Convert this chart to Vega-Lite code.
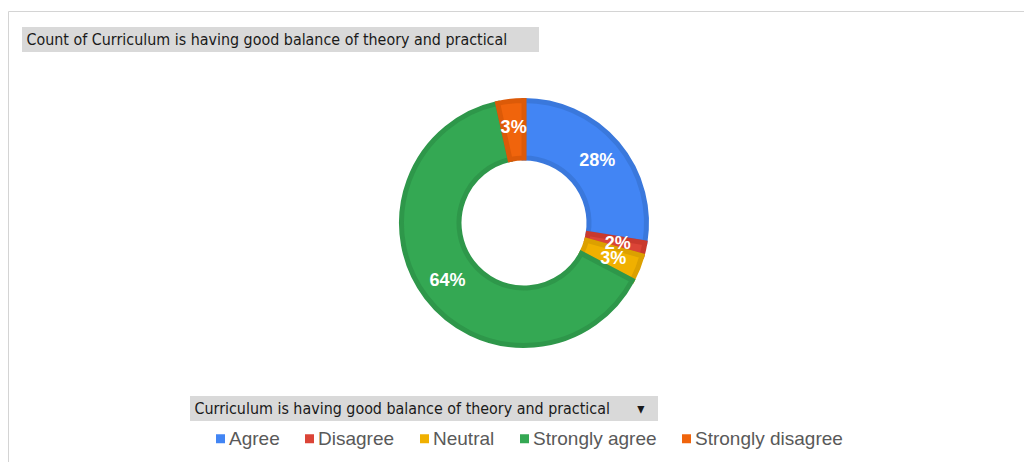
{
  "$schema": "https://vega.github.io/schema/vega-lite/v6.json",
  "width": 1000,
  "height": 446,
  "autosize": {"type": "none"},
  "padding": {"left": 24, "top": 0, "right": 0, "bottom": 16},
  "background": "white",
  "config": {"view": {"stroke": null}},
  "layer": [
    {
      "data": {"values": [{"f": "frame"}]},
      "mark": {"type": "point", "opacity": 0},
      "encoding": {
        "shape": {
          "field": "f",
          "type": "nominal",
          "legend": {
            "orient": "none",
            "legendX": -16,
            "legendY": 11,
            "values": [],
            "title": "\u200b",
            "titleFontSize": 10,
            "strokeColor": "#d4d4d4",
            "padding": 600,
            "titlePadding": 0
          }
        }
      }
    },
    {
      "data": {
        "values": [
          {"response": "Agree", "count": 16, "label": "28%"},
          {"response": "Disagree", "count": 1, "label": "2%"},
          {"response": "Neutral", "count": 2, "label": "3%"},
          {"response": "Strongly agree", "count": 37, "label": "64%"},
          {"response": "Strongly disagree", "count": 2, "label": "3%"}
        ]
      },
      "layer": [
        {
          "mark": {"type": "arc", "outerRadius": 122.5, "innerRadius": 65, "strokeWidth": 5},
          "encoding": {
            "theta": {"field": "count", "type": "quantitative", "stack": true},
            "order": {"field": "response", "type": "nominal", "sort": "ascending"},
            "color": {
              "field": "response",
              "type": "nominal",
              "scale": {
                "domain": ["Agree", "Disagree", "Neutral", "Strongly agree", "Strongly disagree"],
                "range": ["#4285f4", "#db4437", "#f0b000", "#34a853", "#f0640c"]
              },
              "legend": {
                "orient": "none",
                "legendX": 187,
                "legendY": 429,
                "direction": "horizontal",
                "columns": 5,
                "title": null,
                "symbolType": "square",
                "symbolSize": 81,
                "symbolStrokeWidth": 0,
                "labelFont": "Liberation Sans",
                "labelFontSize": 19,
                "labelColor": "#595959",
                "labelOffset": -1,
                "columnPadding": 20,
                "padding": 0,
                "labelLimit": 300
              }
            },
            "stroke": {
              "field": "response",
              "type": "nominal",
              "scale": {
                "domain": ["Agree", "Disagree", "Neutral", "Strongly agree", "Strongly disagree"],
                "range": ["#3a78dc", "#c9392d", "#dca000", "#2e974a", "#dc5a08"]
              },
              "legend": null
            }
          }
        },
        {
          "mark": {"type": "text", "radius": 96, "font": "Liberation Sans", "fontSize": 18, "fontWeight": "bold", "fill": "white"},
          "encoding": {
            "theta": {"field": "count", "type": "quantitative", "stack": true},
            "order": {"field": "response", "type": "nominal", "sort": "ascending"},
            "detail": {"field": "response", "type": "nominal"},
            "text": {"field": "label", "type": "nominal"}
          }
        }
      ]
    },
    {
      "data": {"values": [{"t": "chart title"}]},
      "mark": {"type": "text"},
      "encoding": {
        "text": {"value": ""},
        "opacity": {
          "field": "t",
          "type": "nominal",
          "legend": {
            "orient": "none",
            "legendX": -2,
            "legendY": 27,
            "values": [],
            "title": "Count of Curriculum is having good balance of theory and practical\u00a0\u00a0\u00a0\u00a0\u00a0\u00a0\u200b",
            "titleFont": "DejaVu Sans Condensed",
            "titleFontSize": 15.9,
            "titleFontWeight": "normal",
            "titleColor": "#1a1a1a",
            "titleLimit": 1000,
            "fillColor": "#d9d9d9",
            "padding": 4.5,
            "titlePadding": 0
          }
        }
      }
    },
    {
      "data": {"values": [{"h": "legend header"}]},
      "mark": {"type": "text"},
      "encoding": {
        "text": {"value": ""},
        "size": {
          "field": "h",
          "type": "nominal",
          "legend": {
            "orient": "none",
            "legendX": 166,
            "legendY": 396,
            "values": [],
            "title": "Curriculum is having good balance of theory and practical\u00a0\u00a0\u00a0\u00a0\u00a0\u00a0\u25BE\u00a0\u00a0\u200b",
            "titleFont": "DejaVu Sans Condensed",
            "titleFontSize": 15.9,
            "titleFontWeight": "normal",
            "titleColor": "#1a1a1a",
            "titleLimit": 1000,
            "fillColor": "#d9d9d9",
            "padding": 4.5,
            "titlePadding": 0
          }
        }
      }
    }
  ]
}
